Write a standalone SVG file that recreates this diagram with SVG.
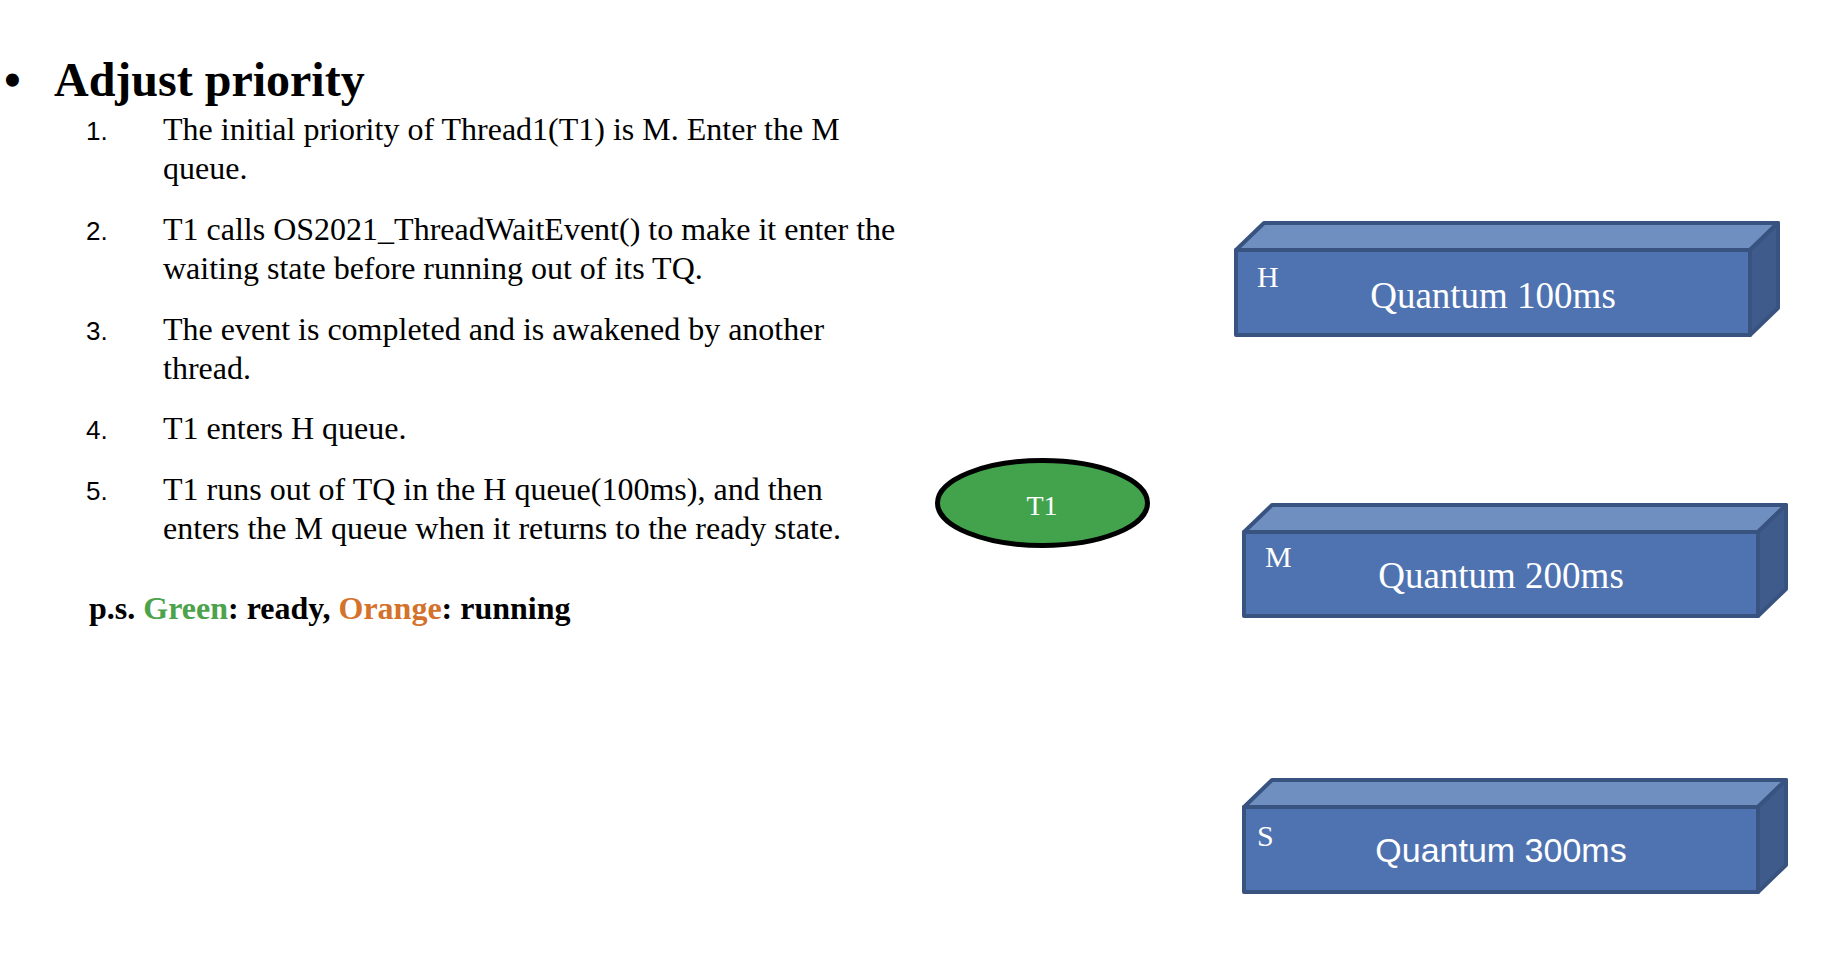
<svg xmlns="http://www.w3.org/2000/svg" width="1831" height="955" viewBox="0 0 1831 955">
<style>
.serif{font-family:"Liberation Serif","Times New Roman",serif;}
.sans{font-family:"Liberation Sans",Arial,sans-serif;}
.body{font-size:32px;fill:#000;}
.num{font-size:26px;fill:#000;}
.b{font-weight:bold;}
.front{fill:#4F73B1;stroke:#395380;stroke-width:4;stroke-linejoin:round;}
.top{fill:#6F8FC0;stroke:#395380;stroke-width:4;stroke-linejoin:round;}
.side{fill:#3F5B8C;stroke:#395380;stroke-width:4;stroke-linejoin:round;}
.lbl{font-size:30px;fill:#fff;}
.q{font-size:37px;fill:#fff;}
</style>
<rect width="1831" height="955" fill="#fff"/>
<g id="text">
<text class="serif b" x="4" y="96" font-size="48">•</text>
<text class="serif b" x="54" y="96" font-size="48">Adjust priority</text>
<text class="sans num" x="86" y="140">1.</text>
<text class="serif body" x="163" y="140">The initial priority of Thread1(T1) is M. Enter the M</text>
<text class="serif body" x="163" y="179">queue.</text>
<text class="sans num" x="86" y="240">2.</text>
<text class="serif body" x="163" y="240">T1 calls OS2021_ThreadWaitEvent() to make it enter the</text>
<text class="serif body" x="163" y="279">waiting state before running out of its TQ.</text>
<text class="sans num" x="86" y="340">3.</text>
<text class="serif body" x="163" y="340">The event is completed and is awakened by another</text>
<text class="serif body" x="163" y="379">thread.</text>
<text class="sans num" x="86" y="439">4.</text>
<text class="serif body" x="163" y="439">T1 enters H queue.</text>
<text class="sans num" x="86" y="500">5.</text>
<text class="serif body" x="163" y="500">T1 runs out of TQ in the H queue(100ms), and then</text>
<text class="serif body" x="163" y="539">enters the M queue when it returns to the ready state.</text>
<text class="serif body b" x="89" y="619">p.s. <tspan fill="#4CA34C">Green</tspan>: ready, <tspan fill="#D4712B">Orange</tspan>: running</text>
</g>
<g id="T1">
<ellipse cx="1042.5" cy="503" rx="105" ry="42.5" fill="#43A34C" stroke="#000" stroke-width="5"/>
<text class="serif" x="1042" y="515" font-size="28" fill="#fff" text-anchor="middle">T1</text>
</g>
<g id="queueH">
<polygon class="top" points="1236,250 1264,223 1778,223 1750,250"/>
<polygon class="side" points="1750,250 1778,223 1778,308 1750,335"/>
<rect class="front" x="1236" y="250" width="514" height="85"/>
<text class="serif lbl" x="1257" y="287">H</text>
<text class="serif q" x="1493" y="308" text-anchor="middle">Quantum 100ms</text>
</g>
<g id="queueM">
<polygon class="top" points="1244,532 1272,505 1786,505 1758,532"/>
<polygon class="side" points="1758,532 1786,505 1786,589 1758,616"/>
<rect class="front" x="1244" y="532" width="514" height="84"/>
<text class="serif lbl" x="1265" y="567">M</text>
<text class="serif q" x="1501" y="588" text-anchor="middle">Quantum 200ms</text>
</g>
<g id="queueS">
<polygon class="top" points="1244,807 1272,780 1786,780 1758,807"/>
<polygon class="side" points="1758,807 1786,780 1786,865 1758,892"/>
<rect class="front" x="1244" y="807" width="514" height="85"/>
<text class="serif lbl" x="1257" y="846">S</text>
<text class="sans" x="1501" y="862" font-size="34" fill="#fff" text-anchor="middle">Quantum 300ms</text>
</g>
<g id="connectors"></g>
</svg>
